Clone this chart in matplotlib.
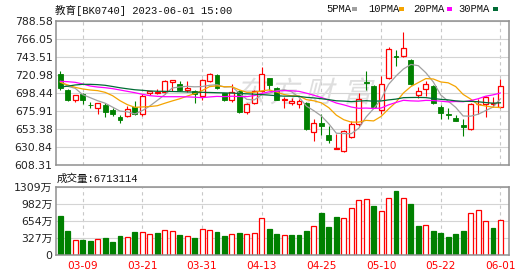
import matplotlib
matplotlib.use("Agg")
import matplotlib.pyplot as plt
from matplotlib.patches import Rectangle, PathPatch
from matplotlib.textpath import TextPath
from matplotlib.font_manager import FontProperties
from matplotlib.transforms import Affine2D

# ---- data ----
dates = ["03-06", "03-07", "03-08", "03-09", "03-10", "03-13", "03-14", "03-15", "03-16", "03-17",
         "03-20", "03-21", "03-22", "03-23", "03-24", "03-27", "03-28", "03-29", "03-30", "03-31",
         "04-03", "04-04", "04-06", "04-07", "04-10", "04-11", "04-12", "04-13", "04-14", "04-17",
         "04-18", "04-19", "04-20", "04-21", "04-24", "04-25", "04-26", "04-27", "04-28", "05-04",
         "05-05", "05-08", "05-09", "05-10", "05-11", "05-12", "05-15", "05-16", "05-17", "05-18",
         "05-19", "05-22", "05-23", "05-24", "05-25", "05-26", "05-29", "05-30", "05-31", "06-01"]

opens = [722.2, 702.6, 689.3, 697.6, 683.8, 679.2, 683.8, 676.7, 668.0, 669.2,
         680.9, 672.2, 698.4, 698.8, 699.3, 712.4, 709.9, 701.6, 701.2, 695.1,
         713.1, 721.4, 698.4, 689.3, 700.5, 674.3, 685.9, 700.9, 717.2, 704.7,
         689.6, 685.9, 685.1, 685.9, 650.0, 660.9, 646.3, 628.8, 625.4, 643.4,
         660.0, 712.6, 707.6, 676.7, 717.2, 744.4, 744.4, 740.2, 696.4, 703.5,
         707.6, 680.9, 672.6, 666.7, 658.8, 653.4, 684.2, 685.1, 685.1, 680.9]
highs = [725.6, 703.0, 696.2, 698.0, 687.6, 686.0, 685.9, 679.2, 671.3, 681.7,
         688.0, 696.8, 700.8, 704.0, 714.2, 714.6, 712.9, 713.9, 702.6, 716.4,
         723.5, 721.8, 698.7, 710.1, 701.8, 685.9, 702.6, 731.0, 717.5, 705.6,
         693.0, 691.8, 690.9, 687.6, 665.9, 671.7, 656.7, 646.7, 652.5, 663.4,
         698.4, 725.6, 708.9, 720.1, 756.0, 751.9, 774.4, 740.5, 706.4, 713.1,
         708.0, 683.8, 679.7, 670.9, 665.9, 685.9, 690.9, 694.3, 693.0, 716.0]
lows = [701.8, 688.8, 686.8, 684.3, 680.1, 671.7, 668.0, 670.1, 660.5, 668.4,
        670.9, 669.2, 696.4, 697.0, 697.6, 700.5, 700.5, 700.1, 685.9, 689.3,
        711.8, 703.9, 688.8, 687.6, 673.4, 672.6, 685.1, 700.1, 702.6, 689.3,
        679.7, 683.4, 679.7, 652.5, 638.3, 646.3, 635.8, 628.3, 624.6, 642.1,
        657.5, 702.6, 680.1, 672.6, 716.0, 731.8, 743.5, 708.9, 691.8, 695.1,
        685.1, 665.9, 665.9, 663.0, 644.2, 652.5, 672.6, 668.4, 680.9, 679.7]
closes = [704.7, 690.1, 695.9, 689.3, 683.0, 685.9, 674.3, 671.7, 664.2, 678.4,
          672.6, 695.1, 700.5, 699.5, 713.9, 714.3, 701.6, 704.5, 696.8, 715.1,
          722.7, 704.7, 690.1, 699.3, 674.3, 684.2, 700.9, 722.7, 708.5, 690.0,
          690.6, 688.4, 688.0, 653.4, 660.9, 657.5, 639.2, 629.5, 651.3, 660.0,
          690.9, 711.0, 680.9, 709.7, 753.5, 743.5, 754.8, 709.7, 701.4, 709.7,
          685.9, 673.4, 670.5, 663.0, 655.5, 684.7, 685.1, 693.0, 685.9, 706.8]

# volume in 万
volumes = [747, 460, 281, 287, 268, 300, 326, 249, 364, 338,
           441, 434, 396, 421, 472, 453, 383, 358, 326, 492,
           472, 441, 364, 396, 421, 396, 415, 702, 498, 409,
           377, 383, 383, 460, 549, 805, 536, 728, 702, 894,
           1047, 1066, 939, 836, 1085, 1226, 1085, 977, 555, 568,
           460, 421, 345, 402, 460, 798, 856, 645, 517, 671.3]

ma5 = [713.1, 706.8, 704.3, 696.4, 692.6, 688.8, 685.7, 680.8, 675.8, 674.9,
       672.2, 676.4, 682.2, 689.2, 696.3, 704.7, 706.0, 706.8, 706.2, 706.5,
       708.1, 708.8, 705.9, 706.4, 698.2, 690.5, 689.8, 696.3, 698.1, 701.2,
       702.5, 700.0, 693.1, 682.0, 676.2, 669.6, 659.8, 648.1, 647.7, 647.5,
       654.2, 668.5, 678.8, 690.5, 709.2, 719.7, 728.5, 734.2, 732.6, 723.8,
       712.3, 696.0, 688.2, 680.5, 669.7, 669.4, 671.8, 676.3, 680.8, 691.1]
ma10 = [711.8, 708.5, 705.5, 703.5, 702.2, 701.4, 699.3, 695.1, 688.8, 683.8,
        680.5, 681.0, 681.5, 682.5, 685.6, 688.5, 691.2, 694.5, 697.7, 701.4,
        706.4, 707.4, 706.3, 706.3, 702.3, 699.3, 699.3, 701.1, 702.3, 699.7,
        696.5, 694.9, 694.7, 690.1, 688.7, 686.1, 680.0, 670.7, 665.0, 662.0,
        662.0, 664.2, 663.5, 669.1, 678.4, 686.9, 698.5, 706.5, 711.5, 716.5,
        716.0, 712.3, 711.2, 706.5, 696.7, 690.9, 683.9, 682.2, 680.7, 680.4]
ma20 = [713.1, 712.6, 711.8, 709.7, 707.2, 705.9, 705.1, 703.9, 702.2, 700.5,
        698.8, 696.8, 695.1, 694.3, 693.8, 693.8, 693.8, 693.6, 693.2, 692.6,
        693.5, 694.2, 693.9, 694.4, 694.0, 693.9, 695.2, 697.8, 700.0, 700.6,
        701.5, 701.2, 700.5, 698.2, 695.6, 692.8, 689.6, 685.9, 683.6, 680.9,
        679.3, 679.6, 679.1, 679.6, 683.6, 686.6, 689.3, 688.6, 688.3, 689.2,
        689.0, 688.2, 687.3, 687.8, 687.5, 688.9, 691.2, 694.4, 696.1, 698.4]
ma30 = [706.0, 707.0, 708.5, 709.3, 709.3, 708.9, 708.1, 706.6, 705.0, 703.7,
        702.5, 701.8, 701.0, 700.6, 700.5, 700.3, 700.1, 699.8, 699.6, 699.3,
        699.1, 698.8, 698.6, 698.3, 697.9, 697.4, 697.0, 696.4, 695.8, 695.0,
        694.5, 694.5, 694.2, 693.0, 692.3, 691.3, 690.1, 688.7, 688.3, 687.7,
        688.3, 688.8, 688.2, 688.5, 689.8, 690.8, 692.6, 692.8, 692.9, 692.7,
        691.5, 690.5, 689.8, 688.6, 688.0, 688.0, 687.5, 686.5, 685.7, 686.2]

price_ticks = [608.31, 630.84, 653.38, 675.91, 698.44, 720.98, 743.51, 766.05, 788.58]
vol_ticks = [0, 327, 654, 982, 1309]
vol_tick_labels = ["0", "327万", "654万", "982万", "1309万"]
label_idx = [3, 11, 19, 27, 35, 43, 51, 59]

title = "教育[BK0740] 2023-06-01 15:00"
vol_title = "成交量:6713114"
ma_labels = ["5PMA", "10PMA", "20PMA", "30PMA"]
ma_colors = ["#a0a0a0", "#f5a400", "#ff00ff", "#006b35"]

# ---- figure ----
W, H = 530, 276
fig = plt.figure(figsize=(W / 100, H / 100), dpi=100)


def fx(px):
    return px / W


def fy(py):
    return 1 - py / H


up_col = "#ff0000"
dn_col = "#008000"
grid_col = "#d4d4d4"
frame_col = "#909090"
n = len(closes)
bw = 0.66

ax = fig.add_axes([fx(56), fy(165), fx(509) - fx(56), fy(21) - fy(165)])
axv = fig.add_axes([fx(56), fy(255), fx(509) - fx(56), fy(186.7) - fy(255)])

for a in (ax, axv):
    a.set_xlim(-0.58, 60.15)
    a.set_axisbelow(True)
    a.yaxis.grid(True, color=grid_col, lw=0.8)
    for i in label_idx:
        a.axvline(i, color="#c8c8c8", lw=0.8, ls=(0, (3, 3)), zorder=0.5)
    for s in a.spines.values():
        s.set_color(frame_col)
        s.set_linewidth(1.1)
    a.tick_params(axis="y", length=0, pad=2.5, labelsize=7.8, labelcolor="#222222")

# watermark
wm_font = FontProperties(family="Noto Sans CJK SC")
for ch, cx in zip("东方财富", [250, 284, 319, 357]):
    tp = TextPath((0, 0), ch, size=29, prop=wm_font)
    tr = Affine2D().translate(-14.5, 0).skew_deg(14, 0).translate(cx, H - 102)
    ax.add_patch(PathPatch(tr.transform_path(tp), facecolor="#dedede", edgecolor="none",
                           transform=matplotlib.transforms.IdentityTransform(), zorder=0.8))

# candles
for i in range(n):
    o, h, l, c = opens[i], highs[i], lows[i], closes[i]
    if c >= o:
        ax.vlines(i, max(o, c), h, color=up_col, lw=0.8, zorder=2)
        ax.vlines(i, l, min(o, c), color=up_col, lw=0.8, zorder=2)
        ax.add_patch(Rectangle((i - bw / 2, o), bw, max(c - o, 0.5), facecolor="white",
                               edgecolor=up_col, lw=0.9, zorder=2.1))
    else:
        ax.vlines(i, l, h, color=dn_col, lw=0.8, zorder=2)
        ax.add_patch(Rectangle((i - bw / 2, c), bw, max(o - c, 0.5), facecolor=dn_col,
                               edgecolor=dn_col, lw=0.6, zorder=2.1))

xs = list(range(n))
for ma, col in zip([ma5, ma10, ma20, ma30], ma_colors):
    ax.plot(xs, ma, color=col, lw=0.9, zorder=3)

ax.set_ylim(608.31, 788.58)
ax.set_yticks(price_ticks)
ax.set_yticklabels([f"{t:.2f}" for t in price_ticks])
ax.set_xticks([])

# volume
vol_up = [False] + [closes[i] > closes[i - 1] for i in range(1, n)]
axv.bar(xs, volumes, width=bw,
        color=["white" if u else dn_col for u in vol_up],
        edgecolor=[up_col if u else dn_col for u in vol_up], lw=0.9, zorder=2)
axv.set_ylim(0, 1309)
axv.set_yticks(vol_ticks)
axv.set_yticklabels(vol_tick_labels, family=["DejaVu Sans", "Noto Sans CJK SC"])
axv.set_xticks(label_idx)
axv.set_xticklabels([dates[i] for i in label_idx])
axv.tick_params(axis="x", length=0, pad=4.5, labelsize=7.6, labelcolor="#ff0000")

# header texts
mono = ["Liberation Mono", "Noto Sans CJK SC"]
fig.text(fx(55), fy(10), title, family=mono, fontsize=7.6, va="center", ha="left", color="#111111")
fig.text(fx(57), fy(178.5), vol_title, family=mono, fontsize=7.6, va="center", ha="left", color="#111111")
for lab, col, tx, mx in zip(ma_labels, ma_colors, [326, 368, 413, 458], [352, 399, 447, 493]):
    fig.text(fx(tx), fy(9), lab, family=mono, fontsize=7.6, va="center", ha="left", color="#111111")
    fig.add_artist(Rectangle((fx(mx), fy(10.5)), 5 / W, 3 / H, facecolor=col,
                             edgecolor="none", transform=fig.transFigure))

fig.savefig("out.png", dpi=100, facecolor="white")
